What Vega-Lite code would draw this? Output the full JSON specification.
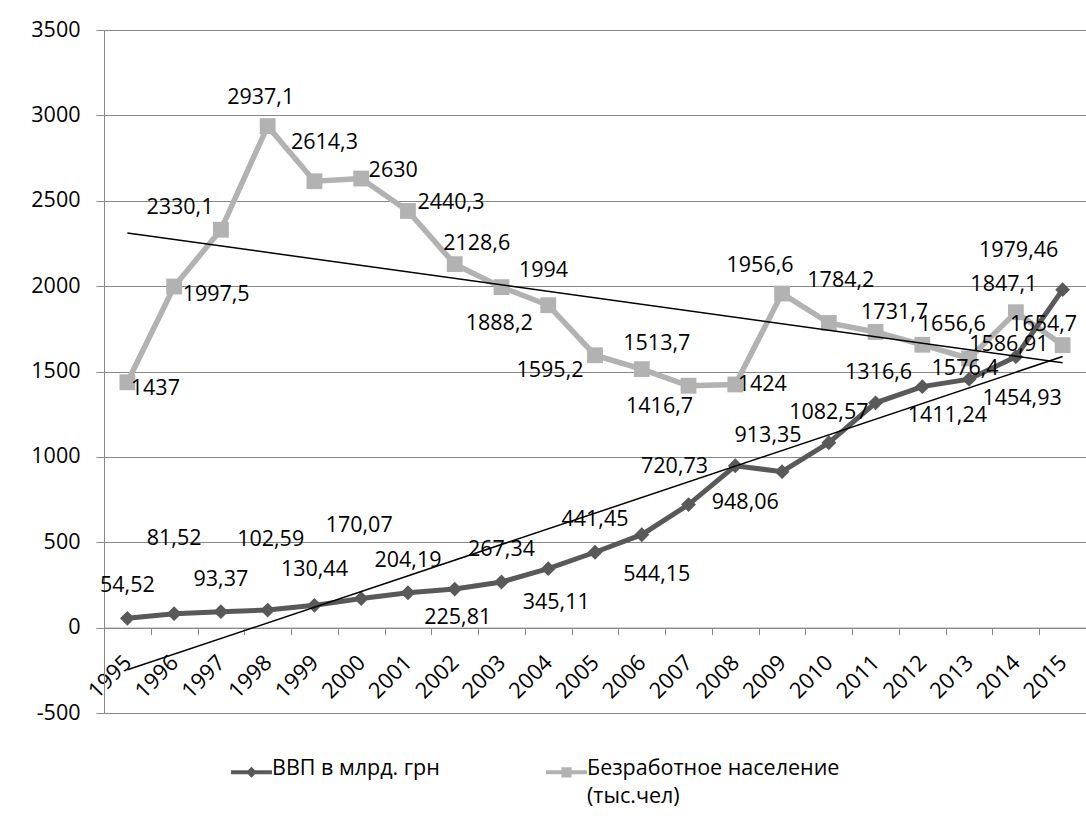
{
  "$schema": "https://vega.github.io/schema/vega-lite/v6.json",
  "width": 982,
  "height": 683,
  "autosize": "none",
  "padding": {"left": 104, "top": 30, "right": 0, "bottom": 112},
  "background": "white",
  "config": {
    "view": {"stroke": null},
    "font": "Open Sans",
    "locale": {"number": {"decimal": ",", "thousands": "", "grouping": [3], "currency": ["", ""], "minus": "-"}}
  },
  "data": {"values": [
    {"year": 1995, "series": "ВВП в млрд. грн", "value": 54.52},
    {"year": 1996, "series": "ВВП в млрд. грн", "value": 81.52},
    {"year": 1997, "series": "ВВП в млрд. грн", "value": 93.37},
    {"year": 1998, "series": "ВВП в млрд. грн", "value": 102.59},
    {"year": 1999, "series": "ВВП в млрд. грн", "value": 130.44},
    {"year": 2000, "series": "ВВП в млрд. грн", "value": 170.07},
    {"year": 2001, "series": "ВВП в млрд. грн", "value": 204.19},
    {"year": 2002, "series": "ВВП в млрд. грн", "value": 225.81},
    {"year": 2003, "series": "ВВП в млрд. грн", "value": 267.34},
    {"year": 2004, "series": "ВВП в млрд. грн", "value": 345.11},
    {"year": 2005, "series": "ВВП в млрд. грн", "value": 441.45},
    {"year": 2006, "series": "ВВП в млрд. грн", "value": 544.15},
    {"year": 2007, "series": "ВВП в млрд. грн", "value": 720.73},
    {"year": 2008, "series": "ВВП в млрд. грн", "value": 948.06},
    {"year": 2009, "series": "ВВП в млрд. грн", "value": 913.35},
    {"year": 2010, "series": "ВВП в млрд. грн", "value": 1082.57},
    {"year": 2011, "series": "ВВП в млрд. грн", "value": 1316.6},
    {"year": 2012, "series": "ВВП в млрд. грн", "value": 1411.24},
    {"year": 2013, "series": "ВВП в млрд. грн", "value": 1454.93},
    {"year": 2014, "series": "ВВП в млрд. грн", "value": 1586.91},
    {"year": 2015, "series": "ВВП в млрд. грн", "value": 1979.46},
    {"year": 1995, "series": "Безработное население (тыс.чел)", "value": 1437},
    {"year": 1996, "series": "Безработное население (тыс.чел)", "value": 1997.5},
    {"year": 1997, "series": "Безработное население (тыс.чел)", "value": 2330.1},
    {"year": 1998, "series": "Безработное население (тыс.чел)", "value": 2937.1},
    {"year": 1999, "series": "Безработное население (тыс.чел)", "value": 2614.3},
    {"year": 2000, "series": "Безработное население (тыс.чел)", "value": 2630},
    {"year": 2001, "series": "Безработное население (тыс.чел)", "value": 2440.3},
    {"year": 2002, "series": "Безработное население (тыс.чел)", "value": 2128.6},
    {"year": 2003, "series": "Безработное население (тыс.чел)", "value": 1994},
    {"year": 2004, "series": "Безработное население (тыс.чел)", "value": 1888.2},
    {"year": 2005, "series": "Безработное население (тыс.чел)", "value": 1595.2},
    {"year": 2006, "series": "Безработное население (тыс.чел)", "value": 1513.7},
    {"year": 2007, "series": "Безработное население (тыс.чел)", "value": 1416.7},
    {"year": 2008, "series": "Безработное население (тыс.чел)", "value": 1424},
    {"year": 2009, "series": "Безработное население (тыс.чел)", "value": 1956.6},
    {"year": 2010, "series": "Безработное население (тыс.чел)", "value": 1784.2},
    {"year": 2011, "series": "Безработное население (тыс.чел)", "value": 1731.7},
    {"year": 2012, "series": "Безработное население (тыс.чел)", "value": 1656.6},
    {"year": 2013, "series": "Безработное население (тыс.чел)", "value": 1576.4},
    {"year": 2014, "series": "Безработное население (тыс.чел)", "value": 1847.1},
    {"year": 2015, "series": "Безработное население (тыс.чел)", "value": 1654.7}
  ]},
  "encoding": {
    "x": {
      "field": "year", "type": "ordinal",
      "scale": {"type": "band", "paddingInner": 0, "paddingOuter": 0},
      "axis": {
        "title": null, "offset": -85.375, "tickBand": "extent", "tickSize": 7,
        "tickColor": "#888888", "domainColor": "#888888", "grid": false,
        "labelAngle": -45, "labelAlign": "right", "labelBaseline": "middle",
        "labelPadding": 24, "labelDx": 8, "labelFontSize": 22, "labelColor": "black",
        "labelFont": "Open Sans", "labelOverlap": false
      }
    },
    "y": {
      "field": "value", "type": "quantitative",
      "scale": {"domain": [-500, 3500], "nice": false, "zero": false},
      "axis": {
        "title": null, "values": [-500, 0, 500, 1000, 1500, 2000, 2500, 3000, 3500],
        "grid": true, "gridColor": "#888888", "gridWidth": 1,
        "tickSize": 8, "tickColor": "#888888", "domainColor": "#888888",
        "labelPadding": 16, "labelFontSize": 21.5, "labelColor": "black", "labelFont": "Open Sans"
      }
    }
  },
  "layer": [
    {
      "transform": [{"filter": "datum.series == 'Безработное население (тыс.чел)'"}],
      "mark": {"type": "line", "strokeWidth": 5.5},
      "encoding": {
        "color": {
          "field": "series", "type": "nominal",
          "scale": {"domain": ["ВВП в млрд. грн", "Безработное население (тыс.чел)"], "range": ["#595959", "#B2B2B2"]},
          "legend": {
            "title": null, "orient": "none", "legendX": 127, "legendY": 722,
            "direction": "horizontal", "labelFontSize": 21.5, "labelColor": "black",
            "labelLimit": 600, "columnPadding": 106, "symbolSize": 1681, "labelOffset": 0,
            "labelBaseline": "top",
            "labelExpr": "datum.label == 'Безработное население (тыс.чел)' ? ['Безработное население', '(тыс.чел)'] : [datum.label, ' ']",
            "encode": {
              "symbols": {"update": {
                "shape": {"signal": "datum.value == 'ВВП в млрд. грн' ? 'M-1,-0.1L1,-0.1L1,0.1L-1,0.1Z M-0.27,0L0,-0.27L0.27,0L0,0.27Z' : 'M-1,-0.1L1,-0.1L1,0.1L-1,0.1Z M-0.25,-0.25L0.25,-0.25L0.25,0.25L-0.25,0.25Z'"},
                "fill": {"signal": "datum.value == 'ВВП в млрд. грн' ? '#595959' : '#B2B2B2'"},
                "strokeWidth": {"value": 0},
                "opacity": {"value": 1},
                "y": {"value": 20}
              }},
              "labels": {"update": {"y": {"value": 20}, "dy": {"value": -14}, "lineHeight": {"value": 28}}}
            }
          }
        }
      }
    },
    {
      "transform": [{"filter": "datum.series == 'Безработное население (тыс.чел)'"}],
      "mark": {"type": "point", "shape": "square", "filled": true, "size": 250, "opacity": 1},
      "encoding": {"color": {"field": "series", "type": "nominal"}}
    },
    {
      "transform": [{"filter": "datum.series == 'ВВП в млрд. грн'"}],
      "mark": {"type": "line", "strokeWidth": 5},
      "encoding": {"color": {"field": "series", "type": "nominal"}}
    },
    {
      "transform": [{"filter": "datum.series == 'ВВП в млрд. грн'"}],
      "mark": {"type": "point", "shape": "diamond", "filled": true, "size": 220, "opacity": 1},
      "encoding": {"color": {"field": "series", "type": "nominal"}}
    },
    {
      "transform": [{"regression": "value", "on": "year", "groupby": ["series"]}],
      "mark": {"type": "line", "color": "black", "strokeWidth": 1.5},
      "encoding": {"detail": {"field": "series", "type": "nominal"}}
    },
    {
      "transform": [{"filter": "datum.series == 'Безработное население (тыс.чел)'"}],
      "mark": {
        "type": "text", "fontSize": 21.5, "color": "black", "align": "center", "baseline": "middle",
        "dx": {"expr": "[28,42,-41,-7,10,32,43,22,42,-49,-45,15,-29,27,-22,12,19,30,-4,-12,-19][datum.year-1995]"},
        "dy": {"expr": "[7,8,-22,-28,-38,-8,-8,-20,-16,19,16,-25,21,1,-28,-42,-19,-20,11,-27,-20][datum.year-1995]"}
      },
      "encoding": {"text": {"field": "value", "type": "quantitative", "format": "~r"}}
    },
    {
      "transform": [{"filter": "datum.series == 'ВВП в млрд. грн'"}],
      "mark": {
        "type": "text", "fontSize": 21.5, "color": "black", "align": "center", "baseline": "middle",
        "dx": {"expr": "[0,0,0,3,0,-2,0,3,0,8,0,15,-14,10,-14,0,3,25,53,-7,-44][datum.year-1995]"},
        "dy": {"expr": "[-32,-75,-32,-70,-35,-73,-32,29,-32,34,-32,40,-38,37,-36,-30,-30,29,20,-12,-39][datum.year-1995]"}
      },
      "encoding": {"text": {"field": "value", "type": "quantitative", "format": "~r"}}
    }
  ]
}
